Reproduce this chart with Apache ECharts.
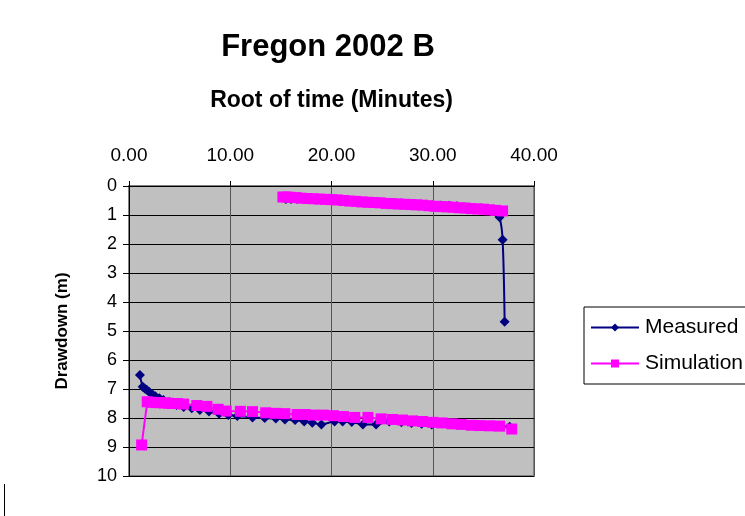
<!DOCTYPE html>
<html>
<head>
<meta charset="utf-8">
<script src="https://cdn.jsdelivr.net/npm/echarts@6/dist/echarts.min.js"></script>
<style>
    html, body { margin: 0; padding: 0; background: #fff; }
    #main { width: 745px; height: 516px; }
</style>
</head>
<body>
<div id="main"></div>
<script>
    // measured drawdown: pumping part, then recovery part
    var measuredPumping = [
        [1.08, 6.52], [1.35, 6.92], [1.55, 6.98], [1.75, 7.03], [2.0, 7.1], [2.3, 7.18],
        [2.6, 7.25], [3.0, 7.32], [3.4, 7.38], [4.0, 7.45], [4.7, 7.55], [5.4, 7.62],
        [6.2, 7.66], [7.0, 7.72], [7.9, 7.78], [8.9, 7.85], [9.8, 7.9], [10.7, 7.93],
        [12.2, 7.98], [13.4, 8.0], [14.5, 8.02], [15.4, 8.05], [16.4, 8.07], [17.3, 8.12],
        [18.1, 8.16], [19.0, 8.22], [20.3, 8.12], [21.1, 8.12], [22.0, 8.14], [23.1, 8.22],
        [24.4, 8.22], [25.7, 8.12], [26.9, 8.15], [27.9, 8.17], [28.9, 8.2], [29.9, 8.22],
        [31.0, 8.18], [31.9, 8.2], [32.9, 8.22], [34.1, 8.26], [34.9, 8.26], [35.8, 8.27],
        [37.6, 8.3]
    ];
    var measuredRecovery = [
        [15.5, 0.45], [16.0, 0.45], [16.6, 0.44], [17.2, 0.43], [18.0, 0.44], [18.8, 0.45],
        [19.6, 0.46], [20.4, 0.48], [21.2, 0.5], [22.0, 0.52], [22.8, 0.53], [23.6, 0.54],
        [24.4, 0.56], [25.2, 0.58], [26.0, 0.59], [26.8, 0.6], [27.6, 0.62], [28.4, 0.64],
        [29.2, 0.66], [30.0, 0.67], [30.8, 0.67], [31.6, 0.68], [32.4, 0.7], [33.2, 0.73],
        [34.0, 0.76], [34.8, 0.78], [35.6, 0.82], [36.2, 0.9], [36.6, 1.08], [36.9, 1.85],
        [37.1, 4.68]
    ];
    var simulationPumping = [
        [1.25, 8.93], [1.8, 7.44], [2.3, 7.46], [2.7, 7.47], [3.1, 7.47], [3.5, 7.48],
        [3.9, 7.49], [4.3, 7.5], [4.8, 7.5], [5.4, 7.52], [6.7, 7.57], [7.7, 7.6],
        [8.8, 7.7], [9.6, 7.76], [11.0, 7.77], [12.2, 7.78], [13.5, 7.82], [14.5, 7.84],
        [15.4, 7.85], [16.6, 7.88], [17.4, 7.88], [18.2, 7.9], [19.2, 7.9], [20.2, 7.92],
        [21.2, 7.95], [22.3, 7.98], [23.6, 7.98], [24.9, 8.03], [26.0, 8.05], [27.0, 8.07],
        [28.0, 8.1], [29.0, 8.12], [30.0, 8.15], [30.9, 8.17], [31.9, 8.2], [32.8, 8.22],
        [33.8, 8.25], [34.6, 8.26], [35.6, 8.27], [36.6, 8.28], [37.8, 8.38]
    ];
    var simulationRecovery = [
        [15.2, 0.38], [15.6, 0.38], [16.0, 0.39], [16.5, 0.4], [17.0, 0.42], [17.6, 0.43],
        [18.2, 0.44], [18.8, 0.45], [19.4, 0.46], [20.0, 0.47], [20.6, 0.48], [21.2, 0.5],
        [21.8, 0.52], [22.4, 0.53], [23.0, 0.55], [23.6, 0.56], [24.2, 0.57], [24.8, 0.58],
        [25.4, 0.6], [26.0, 0.61], [26.6, 0.62], [27.2, 0.63], [27.8, 0.64], [28.4, 0.65],
        [29.0, 0.66], [29.6, 0.68], [30.2, 0.7], [30.8, 0.71], [31.4, 0.72], [32.0, 0.73],
        [32.6, 0.75], [33.2, 0.76], [33.8, 0.78], [34.4, 0.79], [35.0, 0.8], [35.6, 0.82],
        [36.2, 0.84], [36.9, 0.86]
    ];
    var seriesNames = ['Measured', 'Simulation'];

    // '-' breaks the line between the two parts
    var measuredData = measuredPumping.concat([['-', '-']], measuredRecovery);
    var simulationData = simulationPumping.concat([['-', '-']], simulationRecovery);

    var font = 'Arial, "Liberation Sans", sans-serif';
    var myChart = echarts.init(document.getElementById('main'));
    var option = {
        backgroundColor: '#fff',
        animation: false,
        title: {
            text: 'Fregon 2002 B',
            left: 323,
            textAlign: 'center',
            top: 27,
            textStyle: { fontFamily: font, fontSize: 31, fontWeight: 'bold', color: '#000' }
        },
        legend: {
            orient: 'vertical',
            left: 584,
            top: 307,
            data: seriesNames,
            itemWidth: 48,
            itemHeight: 10,
            itemGap: 15,
            padding: [10, 30, 10, 6],
            borderColor: '#000',
            borderWidth: 1,
            textStyle: { fontFamily: font, fontSize: 21, color: '#000', padding: [0, 0, 0, 1] }
        },
        grid: {
            left: 129,
            top: 186,
            width: 405,
            height: 290,
            show: true,
            backgroundColor: '#c0c0c0',
            borderColor: '#808080',
            borderWidth: 2
        },
        xAxis: {
            type: 'value',
            position: 'top',
            min: 0,
            max: 40,
            interval: 10,
            name: 'Root of time (Minutes)',
            nameLocation: 'middle',
            nameGap: 74,
            nameTextStyle: { fontFamily: font, fontSize: 23, fontWeight: 'bold', color: '#000' },
            axisLine: { show: true, lineStyle: { color: '#000', width: 1 } },
            axisTick: { show: true, length: 5, lineStyle: { color: '#000' } },
            axisLabel: {
                margin: 21,
                fontFamily: font, fontSize: 19, color: '#000',
                formatter: function (v) { return v.toFixed(2); }
            },
            splitLine: { show: true, lineStyle: { color: '#555', width: 1 } }
        },
        yAxis: {
            type: 'value',
            inverse: true,
            min: 0,
            max: 10,
            interval: 1,
            name: 'Drawdown (m)',
            nameLocation: 'middle',
            nameGap: 58,
            nameRotate: 90,
            nameTextStyle: { fontFamily: font, fontSize: 17, fontWeight: 'bold', color: '#000' },
            axisLine: { show: true, lineStyle: { color: '#000', width: 1 } },
            axisTick: { show: true, length: 6, lineStyle: { color: '#000' } },
            axisLabel: { margin: 12, fontFamily: font, fontSize: 18, color: '#000' },
            splitLine: { show: true, lineStyle: { color: '#000', width: 1 } }
        },
        series: [
            {
                name: 'Measured',
                type: 'line',
                data: measuredData,
                smooth: 0.3,
                symbol: 'diamond',
                symbolSize: 10,
                connectNulls: false,
                itemStyle: { color: '#000080' },
                lineStyle: { color: '#000080', width: 2 },
                z: 2
            },
            {
                name: 'Simulation',
                type: 'line',
                data: simulationData,
                symbol: 'rect',
                symbolSize: 11,
                connectNulls: false,
                itemStyle: { color: '#ff00ff' },
                lineStyle: { color: '#ff00ff', width: 2 },
                z: 3
            }
        ],
        graphic: [
            {
                type: 'line',
                shape: { x1: 4.5, y1: 484, x2: 4.5, y2: 516 },
                style: { stroke: '#000', lineWidth: 1 }
            }
        ]
    };
    myChart.setOption(option);
</script>
</body>
</html>
